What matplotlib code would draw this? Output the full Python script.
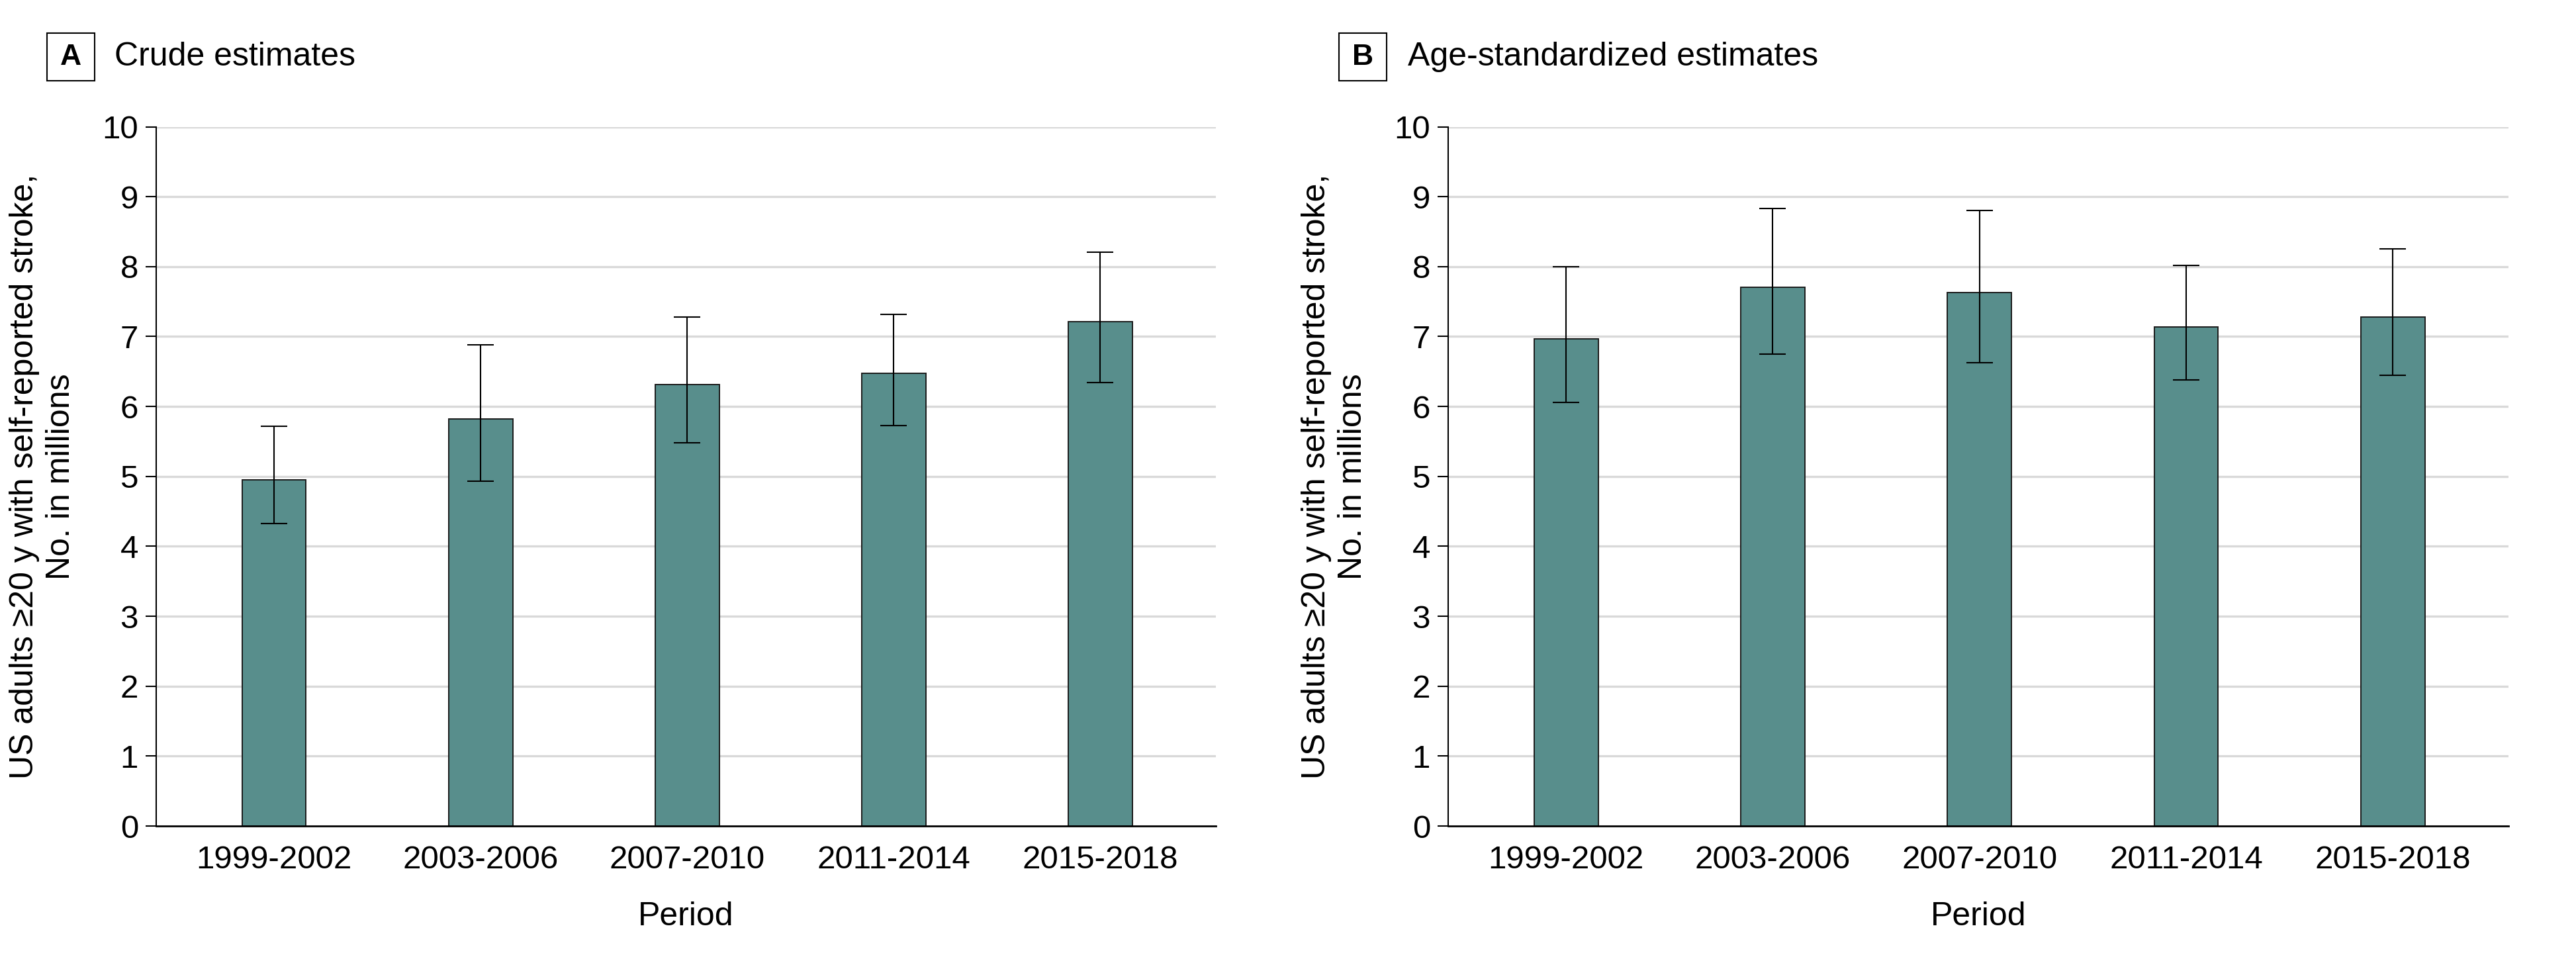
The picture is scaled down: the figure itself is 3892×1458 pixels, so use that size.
import numpy as np
import matplotlib
matplotlib.use("Agg")
import matplotlib.pyplot as plt
from matplotlib.patches import Rectangle

plt.rcParams['font.family'] = ['Liberation Sans', 'DejaVu Sans']

periods = ['1999-2002', '2003-2006', '2007-2010', '2011-2014', '2015-2018']

# panel A, crude estimates (millions)
crude = [4.95, 5.82, 6.31, 6.47, 7.21]
crude_lo = [4.33, 4.93, 5.48, 5.73, 6.34]
crude_hi = [5.72, 6.88, 7.28, 7.32, 8.21]

# panel B, age-standardized estimates (millions)
agestd = [6.97, 7.70, 7.63, 7.14, 7.28]
agestd_lo = [6.06, 6.75, 6.63, 6.38, 6.45]
agestd_hi = [8.00, 8.83, 8.80, 8.02, 8.25]

bar_col = '#588e8c'
grid_col = '#d9d9d9'
ylab = 'US adults \u226520 y with self-reported stroke,\nNo. in millions'

W, H = 3892, 1458
fig = plt.figure(figsize=(W / 100, H / 100), dpi=100)


def panel(left_px, right_px, vals, lo, hi, letter, title, box_px, title_px):
    ax = fig.add_axes([left_px / W, 1 - 1248 / H, (right_px - left_px) / W, 1056.5 / H])
    x = np.arange(len(periods))
    v = np.array(vals)
    err = np.vstack([v - np.array(lo), np.array(hi) - v])
    ax.bar(x, v, width=0.31, color=bar_col, edgecolor='#1a1a1a', linewidth=1.4, zorder=2)
    ax.errorbar(x, v, yerr=err, fmt='none', ecolor='black', elinewidth=1.5,
                capsize=14.4, capthick=1.5, zorder=3)
    ax.set_xlim(-0.5705, 4.5593)
    ax.set_ylim(0, 10)
    ax.set_yticks(range(0, 11))
    ax.set_xticks(x)
    ax.set_xticklabels(periods)
    ax.set_axisbelow(True)
    ax.yaxis.grid(True, color=grid_col, linewidth=2.4)
    for s in ['top', 'right']:
        ax.spines[s].set_visible(False)
    ax.spines['left'].set_linewidth(1.5)
    ax.spines['bottom'].set_linewidth(2.0)
    ax.tick_params(axis='y', length=11.5, width=1.5, pad=8, labelsize=35.5)
    ax.tick_params(axis='x', length=0, pad=21, labelsize=35.5)
    ax.set_xlabel('Period', fontsize=36, va='center')
    ax.xaxis.set_label_coords(0.5, -0.1297)
    ax.set_ylabel(ylab, fontsize=36, va='center', linespacing=1.25)
    ax.yaxis.set_label_coords(-0.107, 0.5)

    bx = box_px
    fig.patches.append(Rectangle((bx / W, 1 - 122 / H), 72 / W, 72 / H,
                                 transform=fig.transFigure, fill=False,
                                 edgecolor='black', linewidth=1.5))
    fig.text((bx + 36) / W, 1 - 86 / H, letter, ha='center', va='center',
             fontsize=32, fontweight='bold')
    fig.text(title_px / W, 1 - 86 / H, title, ha='left', va='center', fontsize=36)
    return ax


panel(236, 1837, crude, crude_lo, crude_hi, 'A', 'Crude estimates', 71, 173)
panel(2188, 3790, agestd, agestd_lo, agestd_hi, 'B', 'Age-standardized estimates', 2023, 2127)

fig.savefig('out.png', dpi=100)
